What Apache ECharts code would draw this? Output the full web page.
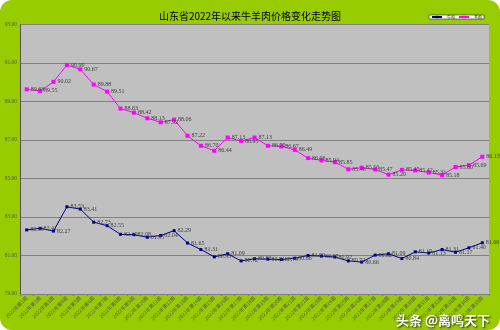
<!DOCTYPE html>
<html>
<head>
<meta charset="utf-8">
<script src="https://cdn.jsdelivr.net/npm/echarts@6/dist/echarts.min.js"></script>
<style>
html,body{margin:0;padding:0;background:#ffffff;}
#c{width:500px;height:330px;background:#99CC00;border-radius:12px;overflow:hidden;}
</style>
</head>
<body>
<div id="c"></div>
<script>
var titleText = '山东省2022年以来牛羊肉价格变化走势图';
var seriesNames = ['牛肉', '羊肉'];
var categories = [];
for (var w = 1; w <= 35; w++) { categories.push('2022年第' + w + '周'); }
var beef = [82.33, 82.41, 82.27, 83.53, 83.41, 82.73, 82.55, 82.10, 82.08, 81.95,
            82.04, 82.29, 81.65, 81.31, 80.93, 81.09, 80.72, 80.83, 80.81, 80.79,
            80.86, 81.00, 80.97, 80.92, 80.72, 80.66, 81.02, 81.09, 80.84, 81.19,
            81.13, 81.31, 81.17, 81.40, 81.66];
var mutton = [89.63, 89.55, 90.02, 90.90, 90.67, 89.88, 89.51, 88.63, 88.42, 88.13,
              87.92, 88.06, 87.22, 86.70, 86.44, 87.13, 86.95, 87.13, 86.70, 86.67,
              86.49, 86.06, 85.94, 85.85, 85.48, 85.56, 85.47, 85.20, 85.45, 85.42,
              85.31, 85.18, 85.60, 85.69, 86.13];
var yMin = 79, yMax = 93, yStep = 2;

var chart = echarts.init(document.getElementById('c'));
var numFont = 'Liberation Serif, Noto Sans CJK SC, serif';
function lbl(color) {
  return {
    show: true, position: 'right', distance: 2,
    fontSize: 6, color: color, fontFamily: numFont,
    formatter: function (p) { return p.value.toFixed(2); }
  };
}
chart.setOption({
  backgroundColor: 'transparent',
  animation: false,
  title: {
    text: titleText, left: 'center', top: 6,
    textStyle: { fontSize: 10, fontWeight: 'normal', color: '#000', fontFamily: 'Noto Sans CJK SC' }
  },
  legend: {
    right: 16, top: 15, itemWidth: 10, itemHeight: 3, itemGap: 3,
    backgroundColor: '#ffffff', borderColor: '#000000', borderWidth: 0.5, padding: [0, 2],
    textStyle: { fontSize: 4, color: '#000', fontFamily: 'Noto Sans CJK SC' },
    data: seriesNames
  },
  grid: {
    left: 20, right: 11, top: 24.5, bottom: 36, show: true,
    backgroundColor: '#C0C0C0', borderWidth: 0
  },
  xAxis: {
    type: 'category', data: categories, boundaryGap: true,
    axisLine: { lineStyle: { color: '#808080', width: 1 } },
    axisTick: { show: true, length: 2, lineStyle: { color: '#808080' } },
    axisLabel: { rotate: 45, fontSize: 5, color: '#555', margin: 3, interval: 0, fontFamily: 'Noto Sans CJK SC' }
  },
  yAxis: {
    type: 'value', min: yMin, max: yMax, interval: yStep,
    axisLine: { show: true, lineStyle: { color: '#555', width: 1 } },
    axisTick: { show: false },
    splitLine: { lineStyle: { color: '#808080', width: 1 } },
    axisLabel: { fontSize: 5.5, color: '#555', margin: 3, fontFamily: numFont,
      formatter: function (v) { return v.toFixed(2); } }
  },
  series: [
    {
      name: seriesNames[0], type: 'line', data: beef,
      symbol: 'rect', symbolSize: 3,
      lineStyle: { color: '#000080', width: 1 },
      itemStyle: { color: '#000080' },
      label: lbl('#404040')
    },
    {
      name: seriesNames[1], type: 'line', data: mutton,
      symbol: 'rect', symbolSize: 4,
      lineStyle: { color: '#FF00FF', width: 1 },
      itemStyle: { color: '#FF00FF' },
      label: lbl('#404040')
    }
  ],
  graphic: [{
    type: 'text', right: 10, bottom: 3,
    style: {
      text: '头条 @离鸣天下', fontSize: 13, fontWeight: 'bold',
      fill: '#ffffff', fontFamily: 'Noto Sans CJK SC',
      textShadowColor: 'rgba(0,0,0,0.8)', textShadowBlur: 2,
      textShadowOffsetX: 1, textShadowOffsetY: 1
    }
  }]
});
</script>
</body>
</html>
